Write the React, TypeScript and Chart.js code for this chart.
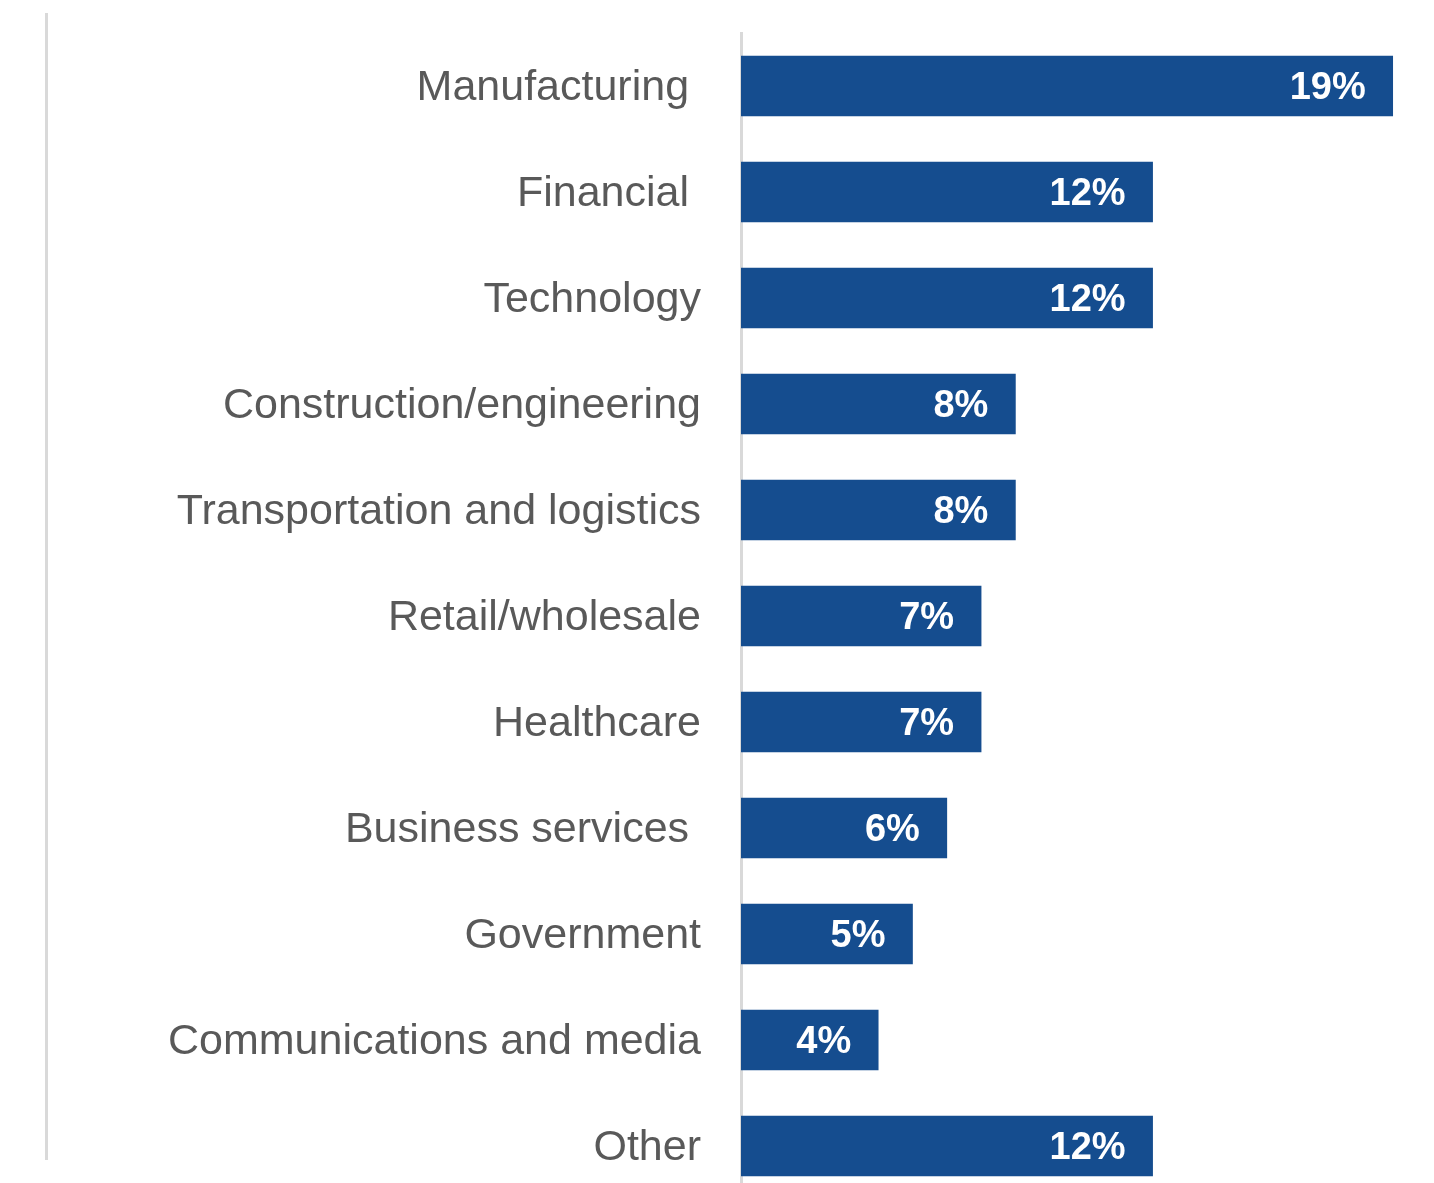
import React, { useEffect, useRef } from "react";
import { Chart, registerables } from "chart.js";

Chart.register(...registerables);

const categories = [
  "Manufacturing ",
  "Financial ",
  "Technology",
  "Construction/engineering",
  "Transportation and logistics",
  "Retail/wholesale",
  "Healthcare",
  "Business services ",
  "Government",
  "Communications and media",
  "Other",
];
const values = [19, 12, 12, 8, 8, 7, 7, 6, 5, 4, 12];

const BAR_COLOR = "#154D8F";
const TEXT_COLOR = "#595959";
const LINE_COLOR = "#D9D9D9";

const valueLabels = {
  id: "valueLabels",
  afterDatasetsDraw(chart: any) {
    const ctx = chart.ctx;
    const meta = chart.getDatasetMeta(0);
    ctx.save();
    ctx.fillStyle = "#FFFFFF";
    ctx.font = "bold 38px 'Liberation Sans', Arial, sans-serif";
    ctx.textAlign = "right";
    ctx.textBaseline = "middle";
    meta.data.forEach((bar: any, i: number) => {
      ctx.fillText(values[i] + "%", bar.x - 27, bar.y + 3);
    });
    ctx.restore();
  },
};

const leftRule = {
  id: "leftRule",
  beforeDraw(chart: any) {
    const ctx = chart.ctx;
    ctx.save();
    ctx.strokeStyle = LINE_COLOR;
    ctx.lineWidth = 3;
    ctx.beginPath();
    ctx.moveTo(46.5, 13);
    ctx.lineTo(46.5, 1160);
    ctx.stroke();
    ctx.restore();
  },
};

export default function App() {
  const ref = useRef<HTMLCanvasElement>(null);
  useEffect(() => {
    if (!ref.current) return;
    const chart = new Chart(ref.current, {
      type: "bar",
      data: {
        labels: categories,
        datasets: [
          {
            data: values,
            backgroundColor: BAR_COLOR,
            barThickness: 60,
          },
        ],
      },
      options: {
        indexAxis: "y",
        animation: false,
        responsive: false,
        maintainAspectRatio: false,
        layout: { padding: { top: 33, bottom: 21, left: 0, right: 7 } },
        plugins: { legend: { display: false }, tooltip: { enabled: false } },
        scales: {
          x: {
            display: false,
            min: 0,
            max: 20,
            grid: { display: false },
          },
          y: {
            afterFit(scale: any) {
              scale.width = 741;
              scale.paddingTop = 0;
              scale.paddingBottom = 0;
            },
            grid: { display: false, drawTicks: false },
            border: { display: true, color: LINE_COLOR, width: 3 },
            ticks: {
              color: TEXT_COLOR,
              padding: 40,
              labelOffset: 2,
              font: { family: "'Liberation Sans', Arial, sans-serif", size: 43 },
            },
          },
        },
      },
      plugins: [valueLabels, leftRule],
    });
    return () => chart.destroy();
  }, []);
  return (
    <div
      style={{
        position: "fixed",
        left: 0,
        top: 0,
        width: 1434,
        height: 1183,
        overflow: "hidden",
        background: "#fff",
      }}
    >
      <canvas ref={ref} width={1434} height={1220} style={{ display: "block" }} />
    </div>
  );
}
